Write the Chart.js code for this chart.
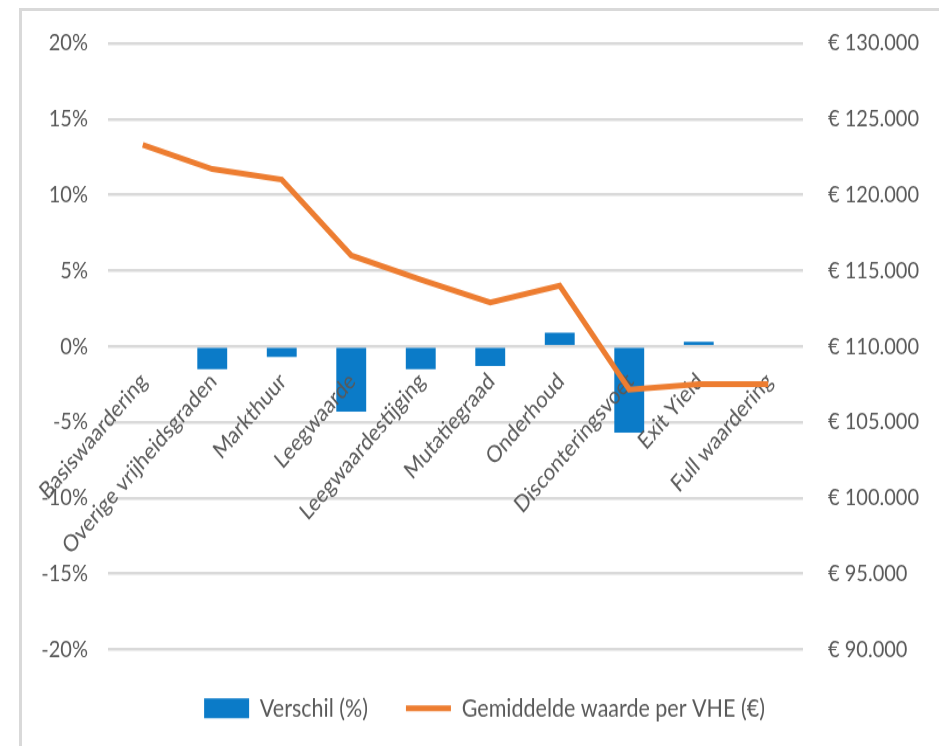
<!DOCTYPE html>
<html>
<head>
<meta charset="utf-8">
<script src="https://cdn.jsdelivr.net/npm/chart.js@4.4.0/dist/chart.umd.min.js"></script>
<style>
  html, body { margin: 0; padding: 0; background: #fff; overflow: hidden; }
  .frame { position: absolute; left: 19px; top: 8px; width: 940px; height: 760px;
           border-left: 3px solid #d9d9d9; border-top: 3px solid #d9d9d9; }
  /* the chart is laid out on a shorter canvas and shown stretched to full height */
  .wrap { position: absolute; left: 0; top: 0; width: 939px; height: 638px;
          transform: scaleY(1.16928); transform-origin: 0 0; }
</style>
</head>
<body>
<div class="frame"></div>
<div class="wrap"><canvas id="chart" width="939" height="638"></canvas></div>
<script>
const categories = [
  'Basiswaardering', 'Overige vrijheidsgraden', 'Markthuur', 'Leegwaarde',
  'Leegwaardestijging', 'Mutatiegraad', 'Onderhoud', 'Disconteringsvoet',
  'Exit Yield', 'Full waardering'
];
// Verschil t.o.v. vorige stap (%)
const verschil = [0, -1.5, -0.7, -4.3, -1.5, -1.3, 0.9, -5.7, 0.3, 0];
// Gemiddelde waarde per VHE (€)
const gemiddeldeWaarde = [123300, 121700, 121000, 116000, 114400, 112900, 114000, 107150, 107500, 107500];

const FONT = "Lato, 'Liberation Sans', sans-serif";
const TEXT = '#595959';
const BLUE = '#0b7bc8';
const ORANGE = '#ed7d31';

const euro = v => '€ ' + String(v).replace(/\B(?=(\d{3})+(?!\d))/g, '.');

// category names hang diagonally under the 0% line, drawn between bars and line
const categoryLabels = {
  id: 'categoryLabels',
  afterDatasetDraw(chart, args) {
    if (args.index !== 0) return;
    const x = chart.scales.x;
    const zero = chart.scales.y.getPixelForValue(0);
    const ctx = chart.ctx;
    ctx.save();
    ctx.font = '20px ' + FONT;
    ctx.fillStyle = TEXT;
    ctx.textAlign = 'right';
    ctx.textBaseline = 'middle';
    categories.forEach((c, i) => {
      ctx.save();
      ctx.translate(x.getPixelForValue(i) + 1, zero + 26.5);
      ctx.rotate(-Math.PI / 4);
      ctx.fillText(c, 0, 0);
      ctx.restore();
    });
    ctx.restore();
  }
};

new Chart(document.getElementById('chart'), {
  type: 'bar',
  data: {
    labels: categories,
    datasets: [{
      type: 'bar',
      label: 'Verschil (%)',
      data: verschil,
      yAxisID: 'y',
      backgroundColor: BLUE,
      borderWidth: 0,
      categoryPercentage: 1,
      barPercentage: 0.43,
      pointStyle: 'rect',
      order: 2
    }, {
      type: 'line',
      label: 'Gemiddelde waarde per VHE (€)',
      data: gemiddeldeWaarde,
      yAxisID: 'y1',
      borderColor: ORANGE,
      backgroundColor: ORANGE,
      borderWidth: 5,
      pointRadius: 0,
      pointStyle: 'line',
      tension: 0,
      order: 1
    }]
  },
  options: {
    responsive: false,
    maintainAspectRatio: false,
    animation: false,
    layout: { padding: { top: 23.8, bottom: 11.6, left: 30, right: 0 } },
    plugins: {
      tooltip: { enabled: false },
      legend: {
        position: 'bottom',
        labels: {
          usePointStyle: true,
          pointStyleWidth: 45,
          boxHeight: 17,
          padding: 38,
          color: TEXT,
          font: { family: FONT, size: 21.5 },
          sort: (a, b) => a.datasetIndex - b.datasetIndex
        }
      }
    },
    scales: {
      x: {
        offset: true,
        afterFit(s) { s.height = 1.5; },
        border: { display: false },
        grid: { display: false },
        ticks: { display: false }
      },
      y: {
        position: 'left',
        min: -20, max: 20,
        afterFit(s) { s.width = 78; },
        border: { display: false },
        grid: { color: '#d9d9d9', lineWidth: 2.5, drawTicks: false },
        ticks: {
          stepSize: 5, padding: 20, color: TEXT,
          font: { family: FONT, size: 20 },
          callback: v => v + '%'
        }
      },
      y1: {
        position: 'right',
        min: 90000, max: 130000,
        afterFit(s) { s.width = 136; },
        border: { display: false },
        grid: { display: false, drawTicks: false },
        ticks: {
          stepSize: 5000, padding: 25, color: TEXT,
          font: { family: FONT, size: 20 },
          callback: v => euro(v)
        }
      }
    }
  },
  plugins: [categoryLabels]
});
</script>
</body>
</html>
